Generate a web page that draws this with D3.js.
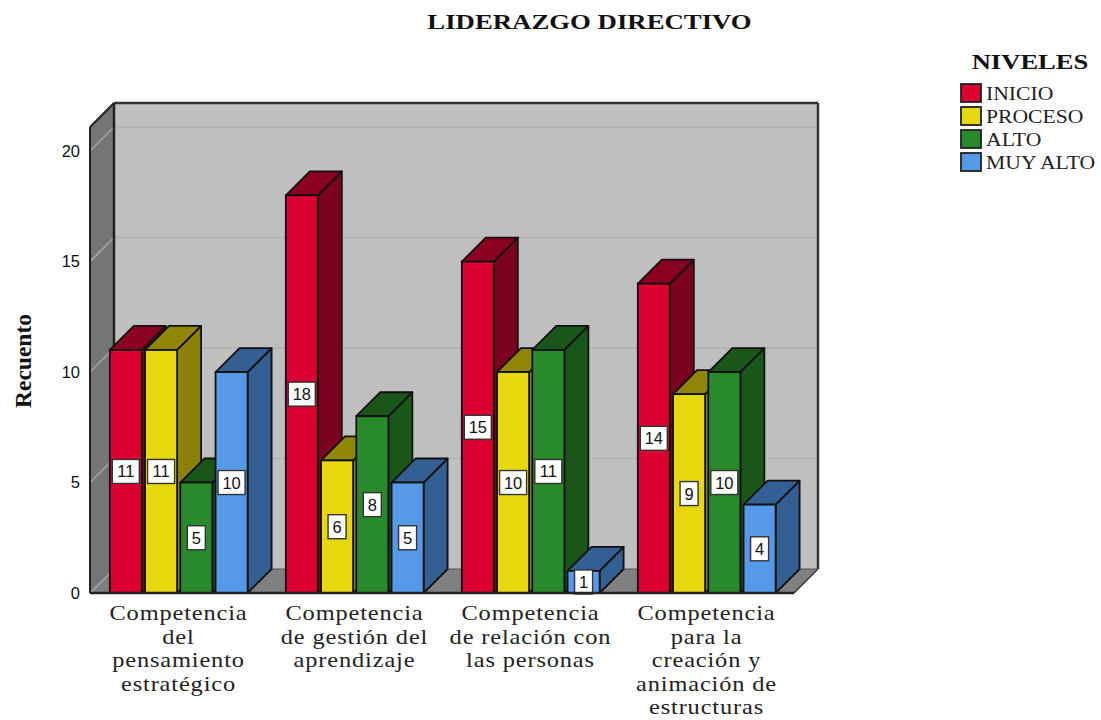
<!DOCTYPE html>
<html><head><meta charset="utf-8">
<script src="https://cdnjs.cloudflare.com/ajax/libs/d3/7.8.5/d3.min.js"></script>
<style>html,body{margin:0;padding:0;background:#fff}svg{display:block}text{font-family:"Liberation Serif",serif;fill:#111}</style>
</head><body><svg id="c" width="1101" height="720"></svg>
<script>
const chartTitle = "LIDERAZGO DIRECTIVO";
const yTitle = "Recuento";
const legendTitle = "NIVELES";
const categories = ["Competencia del pensamiento estratégico","Competencia de gestión del aprendizaje","Competencia de relación con las personas","Competencia para la creación y animación de estructuras"];
const categoryLines = [["Competencia","del","pensamiento","estratégico"],["Competencia","de gestión del","aprendizaje"],["Competencia","de relación con","las personas"],["Competencia","para la","creación y","animación de","estructuras"]];
const levels = ["INICIO","PROCESO","ALTO","MUY ALTO"];
const inicio = [11,18,15,14];
const proceso = [11,6,10,9];
const alto = [5,8,11,10];
const muyAlto = [10,5,1,4];
const seriesValues = [inicio,proceso,alto,muyAlto];
const yTicks = [0,5,10,15,20];
const frontColors = ["#dc0032","#e6d80c","#288a2a","#5599e8"];
const topColors = ["#8a0020","#8f8606","#1a561a","#345f92"];
const sideColors = ["#7c001f","#8a8208","#1a561a","#345f92"];

const svg = d3.select("#c");
const L=90,R=794,B=593,T=127,D=24;
const x = d3.scaleBand().domain(categories).range([L,R]);
const inner = d3.scaleBand().domain(levels).range([19.8,160.8]);
const y = d3.scaleLinear().domain([0,21.09]).range([B,T]);
const poly=(g,pts,fill,stroke,sw)=>g.append("polygon").attr("points",pts.map(p=>p.join(",")).join(" ")).attr("fill",fill).attr("stroke",stroke||"none").attr("stroke-width",sw||0).attr("stroke-linejoin","round");

// walls and floor
const wall = svg.append("g");
poly(wall,[[L+D,T-D],[R+D,T-D],[R+D,B-D],[L+D,B-D]],"#bfbfbf");
poly(wall,[[L,T],[L+D,T-D],[L+D,B-D],[L,B]],"#757575");
poly(wall,[[L,B],[L+D,B-D],[R+D,B-D],[R,B]],"#808080");
// gridlines
yTicks.filter(d=>d>0).forEach(t=>{
  wall.append("line").attr("x1",L+D).attr("x2",R+D).attr("y1",y(t)-D).attr("y2",y(t)-D).attr("stroke","#b0b0b0").attr("stroke-width",1.5);
  wall.append("line").attr("x1",L).attr("x2",L+D).attr("y1",y(t)).attr("y2",y(t)-D).attr("stroke","#a8a8a8").attr("stroke-width",1.5);
});
wall.append("line").attr("x1",L).attr("x2",L+D).attr("y1",B).attr("y2",B-D).attr("stroke","#a8a8a8").attr("stroke-width",1.5);
// frame
const fr=(a,b,c,d,w,col)=>wall.append("line").attr("x1",a).attr("y1",b).attr("x2",c).attr("y2",d).attr("stroke",col||"#222").attr("stroke-width",w||2);
fr(L+D,T-D,R+D,T-D,2.5,"#333");fr(L,T,L+D,T-D);fr(L,T,L,B);fr(L+D,T-D,L+D,B-D,2.5);
fr(R+D,T-D,R+D,B-D,2.5,"#333");fr(R,B,R+D,B-D,1.5,"#333");
fr(L+D,B-D,R+D,B-D,1,"#555");

// bars
const barsG = svg.append("g");
categories.forEach((c,ci)=>{
  levels.forEach((l,li)=>{
    const v = seriesValues[li][ci];
    const g = barsG.append("g");
    const x0 = x(c)+inner(l), w = inner.bandwidth()-3.2, y0 = y(v);
    poly(g,[[x0+w,y0],[x0+w+D,y0-D],[x0+w+D,B-D],[x0+w,B]],sideColors[li],"#111",1.8);
    poly(g,[[x0,y0],[x0+D,y0-D],[x0+w+D,y0-D],[x0+w,y0]],topColors[li],"#111",1.8);
    g.append("rect").attr("x",x0).attr("y",y0).attr("width",w).attr("height",B-y0).attr("fill",frontColors[li]).attr("stroke","#111").attr("stroke-width",1.8);
  });
});
// value labels above all the bars
const labelsG = svg.append("g");
categories.forEach((c,ci)=>{
  levels.forEach((l,li)=>{
    const v = seriesValues[li][ci];
    const w = inner.bandwidth()-3.2, cx = x(c)+inner(l)+w/2, cy = (y(v)+B)/2;
    const bw = v>=10?27:18;
    labelsG.append("rect").attr("x",cx-bw/2).attr("y",cy-12).attr("width",bw).attr("height",24).attr("fill","#fff").attr("stroke","#333").attr("stroke-width",1.4);
    labelsG.append("text").attr("x",cx).attr("y",cy+6).attr("text-anchor","middle").style("font-family","Liberation Sans").attr("font-size",16.5).text(v);
  });
});

// y axis
const axisY = svg.append("g").attr("transform",`translate(${L},0)`).call(d3.axisLeft(y).tickValues(yTicks).tickSize(0).tickPadding(10));
axisY.select(".domain").remove();
axisY.selectAll("line").remove();
axisY.selectAll("text").style("font-family","Liberation Sans").attr("font-size",16.5).attr("fill","#222");

// x axis line
svg.append("line").attr("x1",L).attr("x2",R).attr("y1",B).attr("y2",B).attr("stroke","#222").attr("stroke-width",2.5);

// category labels
categories.forEach((c,ci)=>{
  const t = svg.append("text").attr("text-anchor","middle").attr("transform",`translate(${x(c)+88.5},0) scale(1.22,1)`).attr("font-size",20).attr("letter-spacing",0.7).style("fill","#222");
  categoryLines[ci].forEach((s,i)=>t.append("tspan").attr("x",0).attr("y",620.5+i*23.5).text(s));
});

// titles
svg.append("text").attr("transform","translate(589.5,29) scale(1.245,1)").attr("text-anchor","middle").attr("font-weight","bold").attr("font-size",21.5).text(chartTitle);
svg.append("text").attr("transform","translate(30.5,361) rotate(-90)").attr("text-anchor","middle").attr("font-weight","bold").attr("font-size",23.5).text(yTitle);

// legend
const lg = svg.append("g");
lg.append("text").attr("transform","translate(1030,69) scale(1.236,1)").attr("text-anchor","middle").attr("font-weight","bold").attr("font-size",21.5).text(legendTitle);
const ly = d3.scalePoint().domain(levels).range([93,162]);
levels.forEach((l,i)=>{
  lg.append("rect").attr("x",961).attr("y",ly(l)-9).attr("width",20).attr("height",18).attr("fill",frontColors[i]).attr("stroke","#222").attr("stroke-width",1.8);
  lg.append("text").attr("transform",`translate(986,${ly(l)+6.5}) scale(1.14,1)`).attr("font-size",19).style("fill","#222").text(l);
});
</script></body></html>
